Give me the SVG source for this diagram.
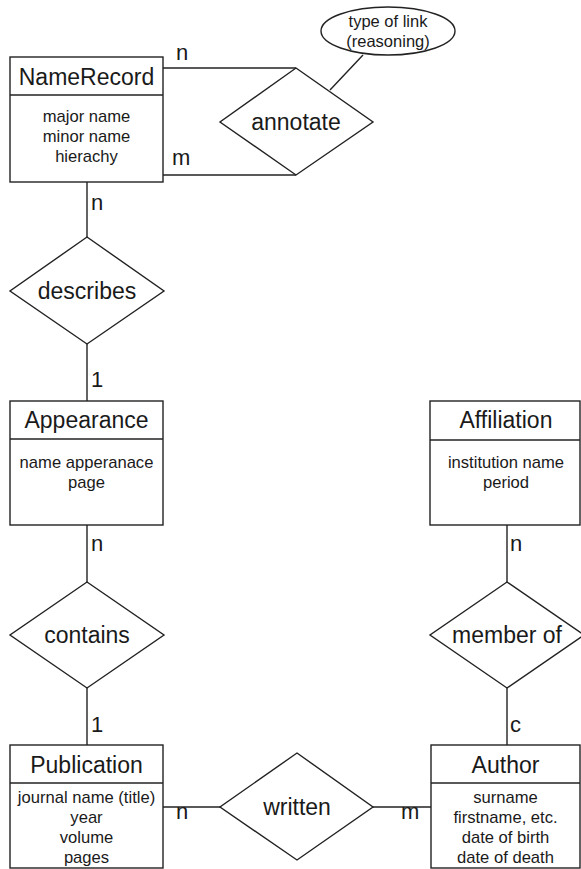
<svg xmlns="http://www.w3.org/2000/svg" width="581" height="869" viewBox="0 0 581 869">
  <style>
    .shape { fill: #ffffff; stroke: #222222; stroke-width: 1.4; }
    .edge { fill: none; stroke: #222222; stroke-width: 1.4; }
    text { font-family: "Liberation Sans", Arial, Helvetica, sans-serif; fill: #1a1a1a; text-anchor: middle; }
    .title { font-size: 23px; }
    .attr { font-size: 16.6px; }
    .rel { font-size: 23px; }
    .card { font-size: 22px; text-anchor: start; }
    .note { font-size: 16.5px; }
  </style>
  <rect width="581" height="869" fill="#ffffff"/>

  <!-- connectors -->
  <g id="connectors">
    <polyline class="edge" points="163,68 296,68"/>
    <polyline class="edge" points="163,175 296,175"/>
    <line class="edge" x1="363" y1="55" x2="330" y2="90"/>
    <line class="edge" x1="87" y1="182" x2="87" y2="237"/>
    <line class="edge" x1="87" y1="344" x2="87" y2="401"/>
    <line class="edge" x1="87" y1="525" x2="87" y2="582"/>
    <line class="edge" x1="87" y1="688" x2="87" y2="745"/>
    <line class="edge" x1="507" y1="525" x2="507" y2="582"/>
    <line class="edge" x1="507" y1="688" x2="507" y2="745"/>
    <line class="edge" x1="163" y1="807" x2="220" y2="807"/>
    <line class="edge" x1="373" y1="807" x2="431" y2="807"/>
    <text class="card" x="176" y="60">n</text>
    <text class="card" x="172" y="165">m</text>
    <text class="card" x="91" y="210">n</text>
    <text class="card" x="91" y="387">1</text>
    <text class="card" x="91" y="551">n</text>
    <text class="card" x="91" y="732">1</text>
    <text class="card" x="510" y="551">n</text>
    <text class="card" x="510" y="732">c</text>
    <text class="card" x="176" y="819">n</text>
    <text class="card" x="401" y="819">m</text>
  </g>

  <!-- entities -->
  <g id="NameRecord">
    <rect class="shape" x="10" y="57" width="153" height="125"/>
    <line class="edge" x1="10" y1="95" x2="163" y2="95"/>
    <text class="title" x="86.5" y="85">NameRecord</text>
    <text class="attr" x="86.5" y="122">major name</text>
    <text class="attr" x="86.5" y="142">minor name</text>
    <text class="attr" x="86.5" y="162">hierachy</text>
  </g>

  <g id="Appearance">
    <rect class="shape" x="10" y="401" width="153" height="124"/>
    <line class="edge" x1="10" y1="439" x2="163" y2="439"/>
    <text class="title" x="86.5" y="428">Appearance</text>
    <text class="attr" x="86.5" y="468">name apperanace</text>
    <text class="attr" x="86.5" y="488">page</text>
  </g>

  <g id="Affiliation">
    <rect class="shape" x="430" y="401" width="150" height="124"/>
    <line class="edge" x1="430" y1="440" x2="580" y2="440"/>
    <text class="title" x="506" y="428">Affiliation</text>
    <text class="attr" x="506" y="468">institution name</text>
    <text class="attr" x="506" y="488">period</text>
  </g>

  <g id="Publication">
    <rect class="shape" x="10" y="745" width="153" height="123"/>
    <line class="edge" x1="10" y1="783" x2="163" y2="783"/>
    <text class="title" x="86.5" y="773">Publication</text>
    <text class="attr" x="86.5" y="803">journal name (title)</text>
    <text class="attr" x="86.5" y="823">year</text>
    <text class="attr" x="86.5" y="843">volume</text>
    <text class="attr" x="86.5" y="863">pages</text>
  </g>

  <g id="Author">
    <rect class="shape" x="431" y="745" width="149" height="123"/>
    <line class="edge" x1="431" y1="783" x2="580" y2="783"/>
    <text class="title" x="505.5" y="773">Author</text>
    <text class="attr" x="505.5" y="803">surname</text>
    <text class="attr" x="505.5" y="823">firstname, etc.</text>
    <text class="attr" x="505.5" y="843">date of birth</text>
    <text class="attr" x="505.5" y="863">date of death</text>
  </g>

  <!-- relationships -->
  <g id="annotate">
    <polygon class="shape" points="296,68 373,122 296,175 220,122"/>
    <text class="rel" x="296" y="130">annotate</text>
  </g>

  <g id="linkType">
    <ellipse class="shape" cx="388" cy="31" rx="67" ry="24"/>
    <text class="note" x="388" y="27">type of link</text>
    <text class="note" x="388" y="47">(reasoning)</text>
  </g>

  <g id="describes">
    <polygon class="shape" points="87,237 164,291 87,344 10,291"/>
    <text class="rel" x="87" y="299">describes</text>
  </g>

  <g id="contains">
    <polygon class="shape" points="87,582 164,635 87,688 10,635"/>
    <text class="rel" x="87" y="643">contains</text>
  </g>

  <g id="memberOf">
    <polygon class="shape" points="507,582 584,635 507,688 430,635"/>
    <text class="rel" x="507" y="643">member of</text>
  </g>

  <g id="written">
    <polygon class="shape" points="297,753 373,807 297,860 220,807"/>
    <text class="rel" x="297" y="815">written</text>
  </g>
</svg>
